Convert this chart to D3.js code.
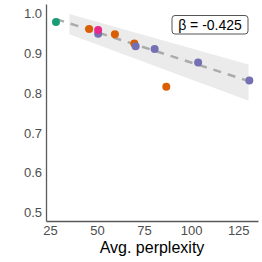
<!DOCTYPE html>
<html><head><meta charset="utf-8">
<script src="https://cdn.jsdelivr.net/npm/d3@7"></script>
<style>body{margin:0;background:#fff}svg{display:block}</style>
</head><body>
<script>
// data
const pointX = [28.2, 45.8, 50.6, 50.6, 59.5, 69.8, 70.5, 80.6, 103.7, 130.9, 86.8];
const pointY = [0.979, 0.961, 0.949, 0.959, 0.948, 0.925, 0.918, 0.911, 0.877, 0.832, 0.816];
const pointGroup = ["g", "o", "p", "m", "o", "o", "p", "p", "p", "p", "o"];
const fitX = [28.4, 130.9];
const fitY = [0.986, 0.830];
const bandX = [35.3, 130.5];
const bandLow = [0.948, 0.781];
const bandHigh = [0.999, 0.872];
const xTicks = [25, 50, 75, 100, 125];
const yTicks = [0.5, 0.6, 0.7, 0.8, 0.9, 1.0];
const betaLabel = "β = -0.425";
const xTitle = "Avg. perplexity";

const colors = {g: "#1b9e77", o: "#d95f02", p: "#7570b3", m: "#e7298a"};
const W = 262, H = 262;
const svg = d3.select("body").append("svg").attr("width", W).attr("height", H);
const x = d3.scaleLinear().domain([22.9, 135.5]).range([46, 258]);
const y = d3.scaleLinear().domain([0.479, 1.024]).range([221, 4]);

// band
const bandData = bandX.map((v, i) => ({x: v, lo: bandLow[i], hi: bandHigh[i]}));
svg.append("path").datum(bandData)
  .attr("d", d3.area().x(d => x(d.x)).y0(d => y(d.lo)).y1(d => y(d.hi)))
  .attr("fill", "#ebebeb");

// fit line
svg.append("path").datum(fitX.map((v, i) => [v, fitY[i]]))
  .attr("d", d3.line().x(d => x(d[0])).y(d => y(d[1])))
  .attr("stroke", "#ababab").attr("stroke-width", 2.5).attr("fill", "none")
  .attr("stroke-dasharray", "8,7");

// points
const pts = pointX.map((v, i) => ({x: v, y: pointY[i], g: pointGroup[i]}));
svg.selectAll("circle.pt").data(pts).enter().append("circle")
  .attr("cx", d => x(d.x)).attr("cy", d => y(d.y)).attr("r", 4)
  .attr("fill", d => colors[d.g]);

// axes
const font = "'Liberation Sans', Arial, sans-serif";
const xAxis = svg.append("g").attr("transform", "translate(0,221)")
  .call(d3.axisBottom(x).tickValues(xTicks).tickSize(0).tickPadding(5).tickFormat(d3.format("d")));
const yAxis = svg.append("g").attr("transform", "translate(46,0)")
  .call(d3.axisLeft(y).tickValues(yTicks).tickSize(0).tickPadding(4).tickFormat(d3.format(".1f")));
[xAxis, yAxis].forEach(a => {
  a.select(".domain").attr("stroke", "#5a5a5a").attr("stroke-width", 1.3);
  a.selectAll("text").attr("font-family", font).attr("font-size", 13).attr("fill", "#4d4d4d");
});

svg.append("text").attr("x", 152).attr("y", 253).attr("text-anchor", "middle")
  .attr("font-family", font).attr("font-size", 16).attr("fill", "#000").text(xTitle);

// beta label
svg.append("rect").attr("x", 172).attr("y", 15.5).attr("width", 76).attr("height", 18.5)
  .attr("rx", 3).attr("fill", "#fff").attr("stroke", "#555").attr("stroke-width", 1);
svg.append("text").attr("x", 210).attr("y", 29.5).attr("text-anchor", "middle")
  .attr("font-family", font).attr("font-size", 14).attr("fill", "#000").text(betaLabel);
</script>
</body></html>
